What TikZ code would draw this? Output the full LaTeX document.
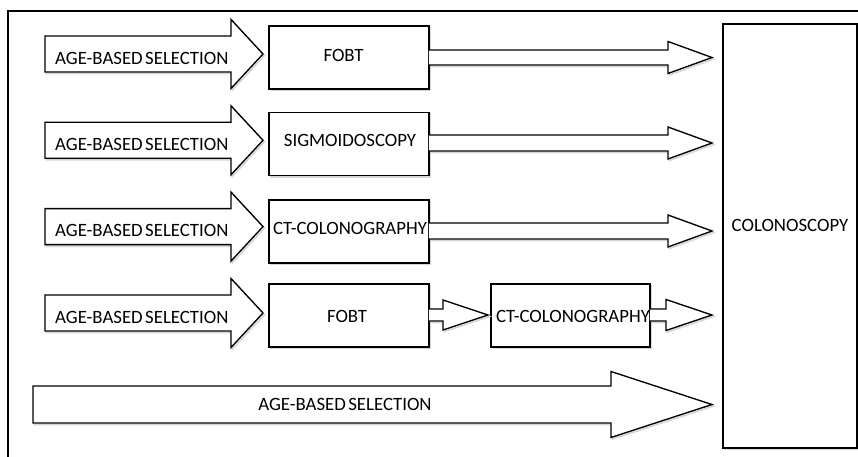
\documentclass[tikz,border=0pt]{standalone}
\usepackage{fontspec}
\setmainfont{Carlito}
\usetikzlibrary{calc}
\tikzset{
  shp/.style={draw=black, line width=1.35pt, fill=white, line join=miter,
    preaction={draw=black!16, line width=1.6pt, transform canvas={shift={(1.3pt,-1.6pt)}}}},
  stagebox/.style={shp, rectangle, inner sep=0pt, minimum width=160pt, minimum height=63pt},
  lbl/.style={inner sep=0pt, text depth=0pt, font=\fontsize{18.8}{20}\selectfont},
}
\newcommand\agesel{AGE-BASED\hspace{0.13em}SELECTION}
% input block arrow: #1 = y of its axis
\newcommand\inarrow[1]{%
  \draw[shp] (45,#1-18) -- (231,#1-18) -- (231,#1-34.5) -- (263,#1) -- (231,#1+34.5) -- (231,#1+18) -- (45,#1+18) -- cycle;}
% output block arrow from a box to a tip: #1 box, #2 tip, #3 head base x, #4 shaft half, #5 head half
\newcommand\outarrow[5]{%
  \draw[shp] let \p1=(#1.east), \p2=(#2) in
    ({\x1-0.8pt},{\y2+#4pt}) -- (#3pt,{\y2+#4pt}) -- (#3pt,{\y2+#5pt}) -- (\p2)
    -- (#3pt,{\y2-#5pt}) -- (#3pt,{\y2-#4pt}) -- ({\x1-0.8pt},{\y2-#4pt});}
\begin{document}
\begin{tikzpicture}[x=1pt,y=-1pt]
\useasboundingbox (0,0) rectangle (858,457);
\clip (0,0) rectangle (858,457);
\fill[white] (0,0) rectangle (858,457);
% outer frame
\draw[line width=2pt] (8,480) -- (8,11) -- (890,11);

% colonoscopy box
\node[shp, rectangle, inner sep=0pt, minimum width=134pt, minimum height=424pt] (col) at (790,236) {};

% input arrows
\inarrow{54}
\inarrow{140.3}
\inarrow{226.6}
\inarrow{313}

% stage boxes
\node[stagebox] (f1) at (349,57.5) {};
\node[stagebox] (s2) at (349,144) {};
\node[stagebox] (c3) at (349,231.5) {};
\node[stagebox] (f4) at (349,315.5) {};
\node[stagebox, minimum width=159pt] (c4) at (570.5,315.5) {};

% tips
\coordinate (t1) at (712,57.5);
\coordinate (t2) at (712,143);
\coordinate (t3) at (712,231);
\coordinate (t4a) at (488,315);
\coordinate (t4b) at (712,315);
\coordinate (t5) at (712,404.5);

% output arrows
\outarrow{f1}{t1}{668}{7.5}{16}
\outarrow{s2}{t2}{668}{8}{16}
\outarrow{c3}{t3}{668}{8}{16}
\outarrow{f4}{t4a}{443}{6}{15}
\outarrow{c4}{t4b}{666}{6}{15.5}

% bottom long arrow
\draw[shp] (33,386) -- (611,386) -- (611,371.5) -- (t5) -- (611,437.5) -- (611,423) -- (33,423) -- cycle;

% labels
\node[lbl, anchor=west] (a1) at (55,58) {\agesel};
\node[lbl, anchor=west] (a2) at (55,144.3) {\agesel};
\node[lbl, anchor=west] (a3) at (55,230.6) {\agesel};
\node[lbl, anchor=west] (a4) at (55,317) {\agesel};
\node[lbl] (a5) at (345,404) {\agesel};
\node[lbl] (l1) at (343.5,55) {FOBT};
\node[lbl] (l2) at (350,140.5) {SIGMOIDOSCOPY};
\node[lbl] (l3) at (350,228) {CT-COLONOGRAPHY};
\node[lbl] (l4) at (347,316) {FOBT};
\node[lbl] (l5) at (573,316) {CT-COLONOGRAPHY};
\node[lbl] (l6) at (790,225) {COLONOSCOPY};
\end{tikzpicture}
\end{document}
